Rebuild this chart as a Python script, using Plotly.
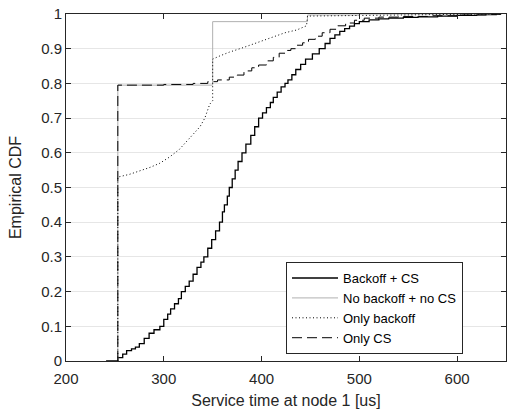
import plotly.graph_objects as go

# Backoff + CS (solid black staircase)
x_bcs = [241, 253, 258, 262, 267, 271, 275, 280, 285, 290, 296, 300, 304, 307, 311, 315, 318, 322, 326, 330,
         334, 338, 341, 345, 349, 353, 357, 360, 362, 365, 367, 370, 373, 376, 380, 384, 389, 393, 397, 401,
         405, 409, 412, 416, 420, 424, 427, 431, 435, 440, 445, 452, 459, 465, 470, 475, 480, 485, 490, 495,
         500, 510, 520, 530, 545, 560, 580, 600, 620, 640]
y_bcs = [0, 0.01, 0.02, 0.03, 0.035, 0.04, 0.05, 0.065, 0.08, 0.09, 0.10, 0.12, 0.135, 0.15, 0.165, 0.18, 0.20, 0.215, 0.23, 0.25,
         0.27, 0.285, 0.30, 0.325, 0.35, 0.375, 0.40, 0.43, 0.45, 0.475, 0.50, 0.525, 0.55, 0.575, 0.60, 0.625, 0.65, 0.675, 0.70, 0.715,
         0.73, 0.745, 0.76, 0.775, 0.79, 0.80, 0.81, 0.825, 0.84, 0.855, 0.87, 0.885, 0.90, 0.915, 0.93, 0.94, 0.95, 0.958, 0.965, 0.972,
         0.978, 0.983, 0.986, 0.988, 0.99, 0.992, 0.994, 0.996, 0.998, 1.0]

# No backoff + no CS (grey)
x_nb = [253, 253, 350, 447, 500, 645]
y_nb = [0, 0.795, 0.978, 0.997, 1.0, 1.0]

# Only backoff (dotted)
x_ob = [253, 253, 265, 276, 286, 296, 306, 316, 324, 331, 337, 342, 347, 350, 350, 358, 367, 380, 392, 401,
        412, 424, 436, 446, 447, 470, 500, 520, 550, 600, 645]
y_ob = [0, 0.53, 0.538, 0.548, 0.558, 0.57, 0.588, 0.61, 0.635, 0.655, 0.675, 0.70, 0.74, 0.75, 0.87, 0.88, 0.89, 0.902, 0.914, 0.925,
        0.935, 0.946, 0.954, 0.966, 0.994, 0.995, 0.996, 0.997, 0.998, 0.999, 1.0]

# Only CS (dashed)
x_cs = [253, 253, 300, 330, 345, 355, 367, 375, 382, 390, 397, 405, 412, 418, 424, 430, 436, 442, 448, 455,
        462, 470, 478, 486, 495, 505, 520, 540, 570, 600, 630, 645]
y_cs = [0, 0.795, 0.797, 0.80, 0.805, 0.81, 0.818, 0.824, 0.836, 0.845, 0.853, 0.865, 0.875, 0.887, 0.895, 0.90,
        0.91, 0.917, 0.927, 0.936, 0.946, 0.956, 0.966, 0.974, 0.982, 0.988, 0.991, 0.993, 0.995, 0.997, 0.999, 1.0]

x_ticks = [200, 300, 400, 500, 600]
y_ticks = [0, 0.1, 0.2, 0.3, 0.4, 0.5, 0.6, 0.7, 0.8, 0.9, 1]
y_labels = ["0", "0.1", "0.2", "0.3", "0.4", "0.5", "0.6", "0.7", "0.8", "0.9", "1"]

FONT = "Liberation Sans, Arial, sans-serif"
INK = "#262626"

fig = go.Figure()
fig.add_trace(go.Scatter(x=x_bcs, y=y_bcs, mode="lines", line_shape="hv", name="Backoff + CS",
                         line=dict(color="black", width=1.3)))
fig.add_trace(go.Scatter(x=x_nb, y=y_nb, mode="lines", line_shape="hv", name="No backoff + no CS",
                         line=dict(color="#b0b0b0", width=1)))
fig.add_trace(go.Scatter(x=x_ob, y=y_ob, mode="lines", name="Only backoff",
                         line=dict(color="black", width=1, dash="1px,2.5px")))
fig.add_trace(go.Scatter(x=x_cs, y=y_cs, mode="lines", line_shape="hv", name="Only CS",
                         line=dict(color="black", width=1, dash="10px,5px")))

axis_common = dict(showline=True, linecolor=INK, linewidth=1, mirror="ticks", automargin=False,
                   ticks="inside", ticklen=5, tickcolor=INK, zeroline=False,
                   tickfont=dict(family=FONT, size=15, color=INK))

fig.update_xaxes(range=[200, 650], tickvals=x_ticks, showgrid=False, ticklabelstandoff=4,
                 title=dict(text="Service time at node 1 [us]", font=dict(family=FONT, size=16, color=INK), standoff=8),
                 **axis_common)
fig.update_yaxes(range=[0, 1], tickvals=y_ticks, ticktext=y_labels, showgrid=True, gridcolor="#e6e6e6", gridwidth=1,
                 title=dict(text="Empirical CDF", font=dict(family=FONT, size=16, color=INK)),
                 **axis_common)

fig.update_layout(
    width=507, height=412,
    margin=dict(l=66, r=1, t=14, b=51),
    plot_bgcolor="white", paper_bgcolor="white",
    legend=dict(x=0.5, y=0.02, xanchor="left", yanchor="bottom",
                bgcolor="white", bordercolor=INK, borderwidth=1,
                font=dict(family=FONT, size=13, color="black"),
                tracegroupgap=0, itemwidth=46),
)

fig.write_html("out.html", config={"responsive": False, "displayModeBar": False},
               post_script="document.body.style.margin='0';document.body.style.padding='0';")
